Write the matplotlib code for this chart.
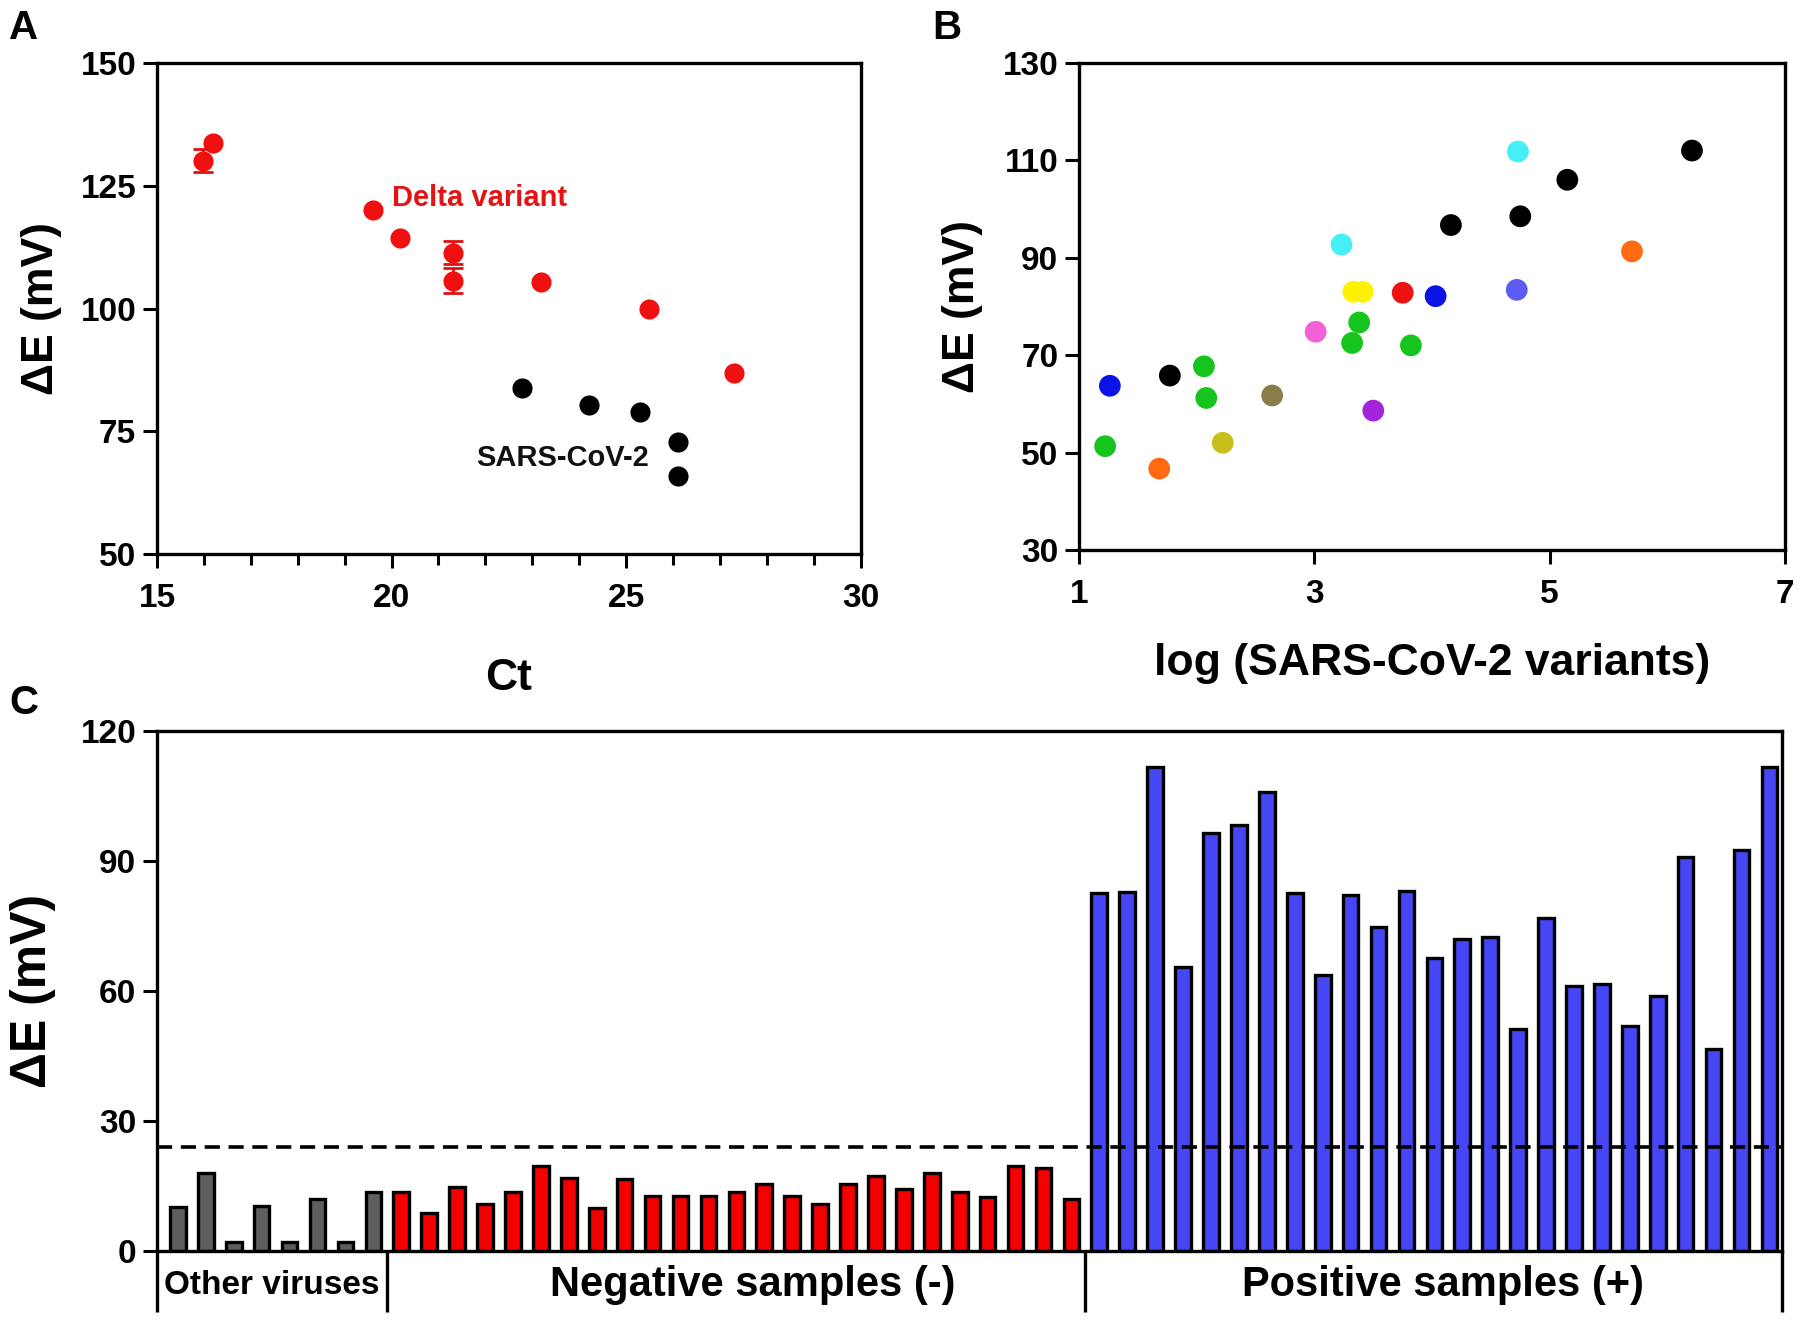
import numpy as np
import matplotlib
matplotlib.use("Agg")
import matplotlib.pyplot as plt
from matplotlib.ticker import MultipleLocator

plt.rcParams['font.family'] = ['Liberation Sans', 'DejaVu Sans']
plt.rcParams['font.weight'] = 'bold'
plt.rcParams['axes.labelweight'] = 'bold'

# --- panel A: Ct vs dE
delta_ct = [15.98, 16.19, 19.6, 20.19, 21.3, 21.3, 23.18, 25.49, 27.3]
delta_de = [130.1, 133.8, 120.0, 114.3, 111.4, 105.7, 105.4, 99.9, 86.9]
delta_err = [2.3, 0, 0, 0, 2.3, 2.6, 0, 0, 0]
sars_ct = [22.78, 24.2, 25.3, 26.1, 26.1]
sars_de = [83.8, 80.4, 79.0, 72.9, 65.9]

# --- panel B: log(variants) vs dE
var_x = [1.26, 1.22, 1.68, 1.77, 2.06, 2.08, 2.22, 2.64, 3.01, 3.23, 3.33, 3.41,
         3.32, 3.38, 3.50, 3.75, 3.82, 4.03, 4.16, 4.72, 4.73, 4.75, 5.15, 5.70, 6.21]
var_y = [63.7, 51.3, 46.7, 65.8, 67.7, 61.2, 52.0, 61.7, 74.8, 92.7, 83.0, 83.0,
         72.5, 76.7, 58.6, 82.8, 72.0, 82.1, 96.7, 83.4, 111.8, 98.5, 106.0, 91.3, 112.0]
var_col = ['#0a12e6', '#16c41e', '#ff6a12', '#000000', '#16c41e', '#16c41e', '#c9bf1c',
           '#8c7c4a', '#f062d6', '#44f0f6', '#fff200', '#fff200', '#16c41e', '#16c41e',
           '#a424dc', '#f01212', '#16c41e', '#0a12e6', '#000000', '#5c5cf2', '#44f0f6',
           '#000000', '#000000', '#ff6a12', '#000000']

# --- panel C: bars
other_vals = [10.1, 18.1, 2.0, 10.3, 2.0, 12.1, 2.0, 13.6]
neg_vals = [13.6, 8.7, 14.7, 10.8, 13.6, 19.7, 16.8, 9.9, 16.7, 12.8, 12.8, 12.8, 13.7,
            15.4, 12.8, 10.8, 15.4, 17.4, 14.2, 18.1, 13.6, 12.4, 19.5, 19.2, 12.1]
pos_vals = [82.6, 82.9, 111.7, 65.6, 96.4, 98.4, 105.8, 82.5, 63.6, 82.2, 74.7, 83.1, 67.6,
            72.0, 72.4, 51.3, 76.8, 61.1, 61.6, 51.8, 58.8, 91.0, 46.6, 92.6, 111.7]
group_names = ['Other viruses', 'Negative samples (-)', 'Positive samples (+)']
cutoff = 24

fig = plt.figure(figsize=(18, 13.21), dpi=100)

def style(ax):
    for s in ax.spines.values():
        s.set_linewidth(2.4)
    ax.tick_params(direction='out', length=10, width=2.2, labelsize=24)
    ax.tick_params(axis='x', pad=11)
    ax.tick_params(axis='y', pad=5)

# A
ax1 = fig.add_axes([0.0872, 0.5806, 0.391, 0.3717])
style(ax1)
m = np.array(delta_err) > 0
ax1.errorbar(np.array(delta_ct)[m], np.array(delta_de)[m], yerr=np.array(delta_err)[m],
             fmt='none', ecolor='#e01010', elinewidth=2, capsize=7, capthick=2, zorder=2)
ax1.scatter(delta_ct, delta_de, s=210, color='#f01010', zorder=3, linewidths=0)
ax1.scatter(sars_ct, sars_de, s=210, color='black', zorder=3, linewidths=0)
ax1.text(20.0, 122.5, 'Delta variant', color='#e41414', fontsize=21, va='center')
ax1.text(21.8, 69.5, 'SARS-CoV-2', color='#111111', fontsize=21, va='center')
ax1.set_xlim(15, 30)
ax1.set_ylim(50, 150)
ax1.set_xticks([15, 20, 25, 30])
ax1.set_yticks([50, 75, 100, 125, 150])
ax1.xaxis.set_minor_locator(MultipleLocator(1))
ax1.tick_params(axis='x', which='minor', direction='out', length=8, width=2.2)
ax1.set_xlabel('Ct', fontsize=32)
ax1.set_ylabel('ΔE (mV)', fontsize=32)
ax1.xaxis.set_label_coords(0.5, -0.212)
ax1.yaxis.set_label_coords(-0.135, 0.5)

# B
ax2 = fig.add_axes([0.5996, 0.5837, 0.392, 0.3687])
style(ax2)
ax2.scatter(var_x, var_y, s=245, c=var_col, zorder=3, linewidths=0)
ax2.set_xlim(1, 7)
ax2.set_ylim(30, 130)
ax2.set_xticks([1, 3, 5, 7])
ax2.set_yticks([30, 50, 70, 90, 110, 130])
ax2.set_xlabel('log (SARS-CoV-2 variants)', fontsize=32)
ax2.set_ylabel('ΔE (mV)', fontsize=32)
ax2.xaxis.set_label_coords(0.5, -0.192)
ax2.yaxis.set_label_coords(-0.137, 0.5)

# C
ax3 = fig.add_axes([0.0872, 0.053, 0.9028, 0.3937])
style(ax3)
groups = [other_vals, neg_vals, pos_vals]
colors = ['#5e5e5e', '#f40000', '#4646f4']
start = 0
bounds = []
for vals, col in zip(groups, colors):
    x = np.arange(start, start + len(vals))
    ax3.bar(x, vals, width=0.56, color=col, edgecolor='black', linewidth=2.4, zorder=2)
    start += len(vals)
    bounds.append(start - 0.5)
ax3.axhline(cutoff, color='black', lw=2.6, ls=(0, (4.2, 2.4)), zorder=3)
ax3.set_xlim(-0.75, start - 0.55)
ax3.set_ylim(0, 120)
ax3.set_yticks([0, 30, 60, 90, 120])
ax3.set_xticks([])
ax3.set_ylabel('ΔE (mV)', fontsize=36)
ax3.yaxis.set_label_coords(-0.062, 0.5)

trans = ax3.get_xaxis_transform()
edges = [ax3.get_xlim()[0]] + bounds[:-1] + [ax3.get_xlim()[1]]
for e in edges:
    ax3.plot([e, e], [0, -0.118], transform=trans, color='black', lw=2.4,
             clip_on=False, solid_capstyle='butt')
sizes = [24, 30, 30]
shifts = [0.0, 0.6, 0.35]
for i, name in enumerate(group_names):
    mid = (edges[i] + edges[i + 1]) / 2 + shifts[i]
    ax3.text(mid, -0.066, name, transform=trans, ha='center', va='center',
             fontsize=sizes[i])

fig.text(0.005, 0.993, 'A', fontsize=29, fontweight='bold', va='top', ha='left')
fig.text(0.518, 0.993, 'B', fontsize=29, fontweight='bold', va='top', ha='left')
fig.text(0.005, 0.482, 'C', fontsize=29, fontweight='bold', va='top', ha='left')

fig.savefig('out.png', dpi=100)
